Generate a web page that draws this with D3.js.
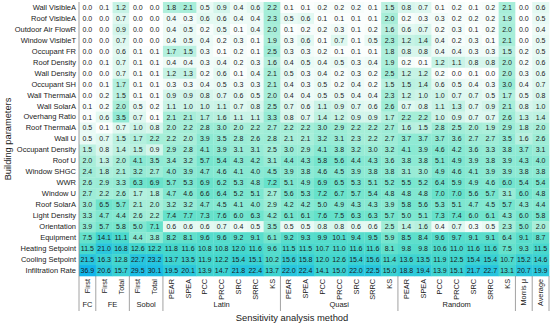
<!DOCTYPE html>
<html><head><meta charset="utf-8">
<script src="https://cdn.jsdelivr.net/npm/d3@7"></script>
<style>
body{margin:0;background:#fff}
svg{display:block}
text{font-family:'Liberation Sans',Arial,sans-serif;fill:#1a1a1a}
</style>
</head><body>
<svg id="chart" width="550" height="329"></svg>
<script>
// Building parameters (rows, top to bottom)
const parameters = ["Wall VisibleA","Roof VisibleA","Outdoor Air FlowR","Window VisibleT","Occupant FR","Roof Density","Wall Density","Occupant SH","Wall ThermalA","Wall SolarA","Overhang Ratio","Roof ThermalA","Wall U","Occupant Density","Roof U","Window SHGC","WWR","Window U","Roof SolarA","Light Density","Orientation","Equipment","Heating Setpoint","Cooling Setpoint","Infiltration Rate"];

// Method tick labels (columns, left to right)
const methods = ["First","First","Total","First","Total",
  "PEAR","SPEA","PCC","PRCC","SRC","SRRC","KS",
  "PEAR","SPEA","PCC","PRCC","SRC","SRRC","KS",
  "PEAR","SPEA","PCC","PRCC","SRC","SRRC","KS",
  "Morris μ","Average"];

// Method groups: name and number of columns
const groupNames = ["FC","FE","Sobol","Latin","Quasi","Random","",""];
const groupSizes = [1,2,2,7,7,7,1,1];

// Sensitivity values (%), one row per parameter, one entry per method column
const values = [
 [0.0,0.1,1.2,0.0,0.0, 1.8,2.1,0.5,0.9,0.4,0.6,2.2, 0.1,0.1,0.2,0.2,0.2,0.1,1.5, 0.8,0.7,0.1,0.2,0.1,0.2,2.1, 0.0,0.6],
 [0.0,0.0,0.7,0.0,0.0, 0.4,0.3,0.6,0.6,0.4,0.4,2.3, 0.5,0.6,0.1,0.1,0.1,0.1,2.0, 0.2,0.3,0.3,0.2,0.2,0.2,1.9, 0.0,0.5],
 [0.0,0.0,0.9,0.0,0.0, 0.4,0.5,0.2,0.5,0.1,0.4,2.0, 0.1,0.2,0.2,0.3,0.1,0.2,1.6, 0.6,0.7,0.2,0.3,0.1,0.2,2.0, 0.0,0.4],
 [0.0,0.0,0.7,0.0,0.0, 0.4,0.5,0.4,0.2,0.3,0.1,1.9, 0.3,0.6,0.1,0.7,0.1,0.5,2.3, 1.2,1.4,0.4,0.2,0.3,0.1,2.1, 0.0,0.5],
 [0.0,0.0,0.6,0.1,0.1, 1.7,1.5,0.3,0.1,0.2,0.1,2.5, 0.3,0.3,0.2,0.1,0.1,0.1,1.8, 0.8,0.8,0.4,0.4,0.3,0.3,1.5, 0.2,0.5],
 [0.0,0.1,0.7,0.1,0.1, 0.4,0.4,0.3,0.4,0.2,0.3,1.6, 0.4,0.5,0.4,0.5,0.3,0.4,1.9, 0.2,0.1,1.2,1.1,0.8,0.8,2.0, 0.2,0.6],
 [0.0,0.0,0.7,0.1,0.1, 1.2,1.3,0.2,0.6,0.1,0.4,2.1, 0.5,0.3,0.4,0.2,0.3,0.2,2.5, 1.2,1.2,0.2,0.0,0.1,0.0,2.0, 0.3,0.6],
 [0.0,0.1,1.7,0.1,0.1, 0.3,0.3,0.4,0.5,0.3,0.3,2.1, 0.4,0.3,0.5,0.2,0.4,0.2,1.5, 1.5,1.4,0.6,0.5,0.4,0.3,3.0, 0.4,0.7],
 [0.0,0.2,1.5,0.1,0.1, 0.9,0.9,0.8,0.7,0.6,0.5,2.0, 0.4,0.4,0.5,0.5,0.4,0.4,2.3, 1.2,1.0,1.0,0.7,0.7,0.5,1.7, 0.5,0.8],
 [0.1,0.2,2.0,0.5,0.2, 1.1,1.0,1.0,1.1,0.7,0.8,2.5, 0.7,0.6,1.1,0.9,0.7,0.6,2.6, 0.7,0.8,1.1,1.3,0.7,0.9,2.1, 0.8,1.0],
 [0.1,0.6,3.5,0.7,0.1, 2.1,2.1,1.7,1.6,1.1,1.1,3.3, 0.8,0.7,1.4,1.2,0.9,0.9,1.7, 2.2,2.2,1.0,0.9,0.7,0.7,2.6, 1.3,1.4],
 [0.5,0.1,0.7,1.0,0.8, 2.0,2.2,2.8,3.0,2.0,2.2,2.7, 2.2,2.2,3.0,2.9,2.2,2.2,2.7, 1.6,1.5,2.8,2.5,2.0,1.9,2.9, 1.8,2.0],
 [0.5,0.7,1.5,1.7,2.2, 2.2,2.0,3.9,3.5,2.8,2.6,2.8, 2.1,2.1,3.2,3.1,2.3,2.2,2.7, 3.7,3.7,3.7,3.6,2.7,2.7,3.5, 1.6,2.6],
 [1.5,0.8,1.4,1.5,0.9, 2.9,2.8,4.1,3.9,3.1,3.1,2.5, 3.0,2.9,4.1,3.8,3.2,3.0,3.2, 4.1,3.9,4.6,4.2,3.6,3.3,3.8, 3.7,3.1],
 [2.0,1.3,2.0,4.1,3.5, 3.4,3.2,5.7,5.4,4.3,4.2,3.1, 4.4,4.3,5.8,5.6,4.4,4.3,3.6, 3.8,3.8,5.1,4.9,3.9,3.8,3.9, 4.3,4.0],
 [2.4,1.8,2.1,3.2,2.7, 4.0,3.9,4.7,4.6,4.1,4.0,4.5, 3.9,3.8,4.6,4.5,3.9,3.8,3.8, 3.1,3.0,4.9,4.6,4.1,3.9,3.9, 3.8,3.8],
 [2.6,2.9,3.3,6.3,6.9, 5.7,5.3,6.9,6.2,5.3,4.8,7.2, 5.1,4.9,6.9,6.5,5.3,5.1,5.2, 5.5,5.2,6.4,5.9,4.9,4.6,6.0, 5.4,5.4],
 [2.7,2.2,2.6,1.7,1.8, 4.7,4.6,6.6,6.4,5.2,5.1,2.7, 5.6,5.3,7.2,6.7,5.7,5.4,4.8, 4.8,4.8,7.0,7.0,5.6,5.7,3.1, 6.0,4.8],
 [3.0,6.5,5.7,2.1,2.0, 3.2,3.2,4.7,4.5,4.1,4.0,2.9, 4.2,4.2,5.0,4.9,4.3,4.3,3.9, 5.8,5.6,5.3,5.1,4.7,4.5,5.7, 4.3,4.4],
 [3.3,4.7,4.4,2.6,2.2, 7.4,7.7,7.3,7.6,6.0,6.3,4.2, 6.1,6.1,7.6,7.5,6.3,6.3,5.7, 5.0,5.1,7.3,7.4,6.0,6.1,4.3, 6.0,5.8],
 [3.9,5.7,5.8,5.0,7.1, 0.6,0.6,0.6,0.7,0.4,0.5,3.5, 0.5,0.5,0.8,0.8,0.6,0.6,2.5, 1.4,1.6,0.4,0.7,0.3,0.5,2.3, 5.0,2.0],
 [7.5,14.1,11.1,4.4,3.8, 8.2,8.1,9.6,9.6,9.2,9.1,6.1, 9.2,9.3,9.9,10.1,9.4,9.5,5.9, 8.5,8.4,9.6,9.7,9.1,9.1,6.4, 9.1,8.7],
 [11.5,21.0,16.8,12.6,12.2, 11.8,11.6,10.8,10.8,12.0,11.6,9.6, 11.5,11.5,10.7,11.0,11.6,11.6,8.1, 9.8,9.8,10.6,11.0,11.6,11.6,7.5, 9.3,11.5],
 [21.5,16.3,12.8,22.7,23.2, 13.7,13.5,11.9,12.2,15.4,15.1,10.2, 15.6,15.8,12.0,12.6,15.4,15.6,11.4, 13.6,13.5,11.9,12.5,15.4,15.4,10.7, 15.2,14.6],
 [36.9,20.6,15.7,29.5,30.1, 19.5,20.1,13.9,14.7,21.8,22.4,13.7, 22.0,22.4,14.1,15.0,22.0,22.5,15.0, 18.8,19.4,13.9,15.1,21.7,22.7,13.1, 20.7,19.9]
];

const svg = d3.select("#chart");
const plotLeft = 79, plotRight = 549, plotTop = 2, plotBottom = 276;

const x = d3.scaleBand().domain(d3.range(methods.length)).range([plotLeft, plotRight]);
const y = d3.scaleBand().domain(parameters).range([plotTop, plotBottom]);
const color = d3.scaleLinear()
  .domain([0, 0.4, 1, 2, 4, 7, 12, 20, 37])
  .range(["#ffffff", "#eefbf7", "#cdf4e8", "#a8eed9", "#8ae9d3", "#68e2cb", "#44d7cd", "#2bc8dc", "#12b5ea"])
  .clamp(true);

const cells = [];
values.forEach((row, r) => row.forEach((v, c) => cells.push({r, c, v})));

svg.append("g").selectAll("rect").data(cells).join("rect")
  .attr("x", d => x(d.c))
  .attr("y", d => y(parameters[d.r]))
  .attr("width", x.bandwidth() + 0.3)
  .attr("height", y.bandwidth() + 0.3)
  .attr("fill", d => color(d.v));

svg.append("g").selectAll("text").data(cells).join("text")
  .attr("x", d => x(d.c) + x.bandwidth() / 2)
  .attr("y", d => y(parameters[d.r]) + y.bandwidth() / 2)
  .attr("dy", "0.35em")
  .attr("text-anchor", "middle")
  .attr("font-size", 7)
  .text(d => d.v.toFixed(1));

// Left axis with row labels
const yAxis = svg.append("g").attr("transform", `translate(${plotLeft},0)`)
  .call(d3.axisLeft(y).tickSize(0).tickPadding(3));
yAxis.select(".domain").remove();
yAxis.selectAll("text").attr("font-size", 7.5).style("font-family", "'Liberation Sans',Arial,sans-serif").attr("fill", "#1a1a1a");

// Frame line
svg.append("line").attr("x1", plotLeft).attr("x2", plotLeft).attr("y1", plotTop).attr("y2", 311)
  .attr("stroke", "#8a8a8a").attr("stroke-width", 0.8);

// Bottom method labels (rotated)
svg.append("g").selectAll("text").data(methods).join("text")
  .attr("transform", (d, i) => `translate(${x(i) + x.bandwidth() / 2},279) rotate(-90)`)
  .attr("text-anchor", "end")
  .attr("dy", "0.35em")
  .attr("font-size", 7.3)
  .text(d => d);

// Group separators and labels
let start = 0;
const bounds = [];
groupSizes.forEach((n, i) => {
  const x0 = x(start), x1 = x(start + n - 1) + x.bandwidth();
  bounds.push(x1);
  if (groupNames[i]) {
    svg.append("text").attr("x", (x0 + x1) / 2).attr("y", 307)
      .attr("text-anchor", "middle").attr("font-size", 7.5).text(groupNames[i]);
  }
  start += n;
});
svg.append("g").selectAll("line").data(bounds).join("line")
  .attr("x1", d => d).attr("x2", d => d).attr("y1", plotBottom).attr("y2", 311)
  .attr("stroke", "#8a8a8a").attr("stroke-width", 0.8);

// Axis titles
svg.append("text").attr("transform", "translate(8,139) rotate(-90)")
  .attr("text-anchor", "middle").attr("dy", "0.35em").attr("font-size", 9.3)
  .text("Building parameters");
svg.append("text").attr("x", 292).attr("y", 321)
  .attr("text-anchor", "middle").attr("font-size", 9.4)
  .text("Sensitivity analysis method");
</script>
</body></html>
